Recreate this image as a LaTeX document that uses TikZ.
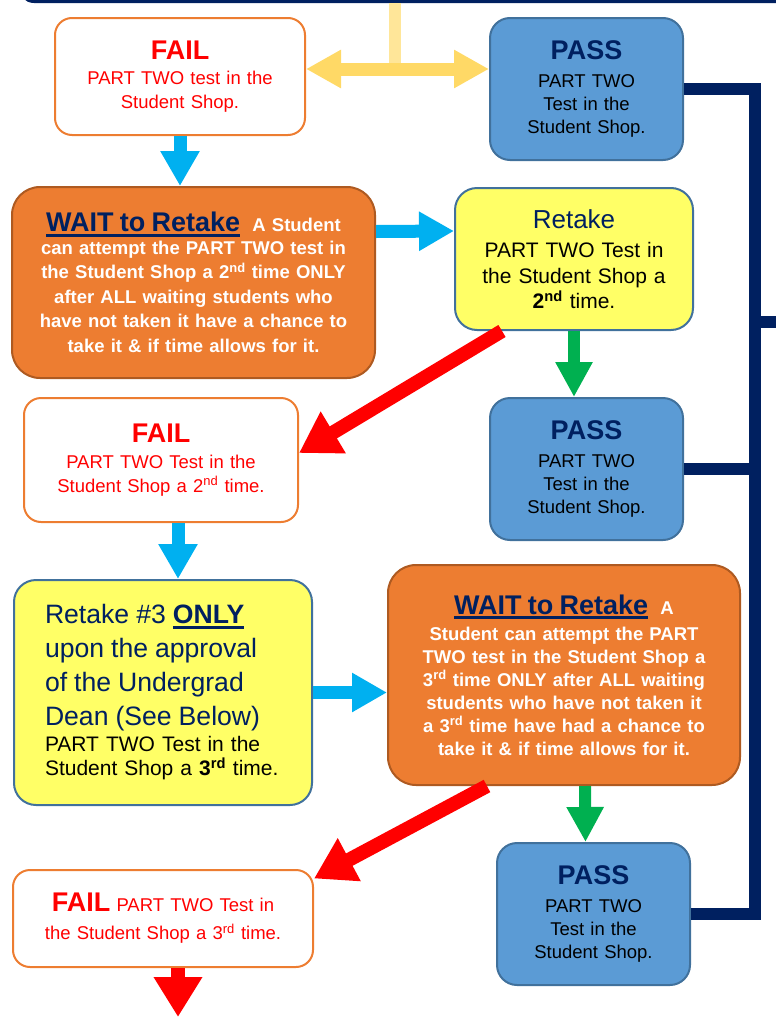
\documentclass[tikz,border=0pt]{standalone}
\usepackage{fontspec}
\setmainfont{Liberation Sans}
\usetikzlibrary{arrows.meta}

\definecolor{navy}{HTML}{002060}
\definecolor{failorange}{HTML}{ED7D31}
\definecolor{waitedge}{HTML}{AE5A21}
\definecolor{passblue}{HTML}{5B9BD5}
\definecolor{passedge}{HTML}{41719C}
\definecolor{retakeyellow}{HTML}{FFFF66}
\definecolor{flowcyan}{HTML}{00B0F0}
\definecolor{flowgreen}{HTML}{00B050}
\definecolor{gold}{HTML}{FFD966}
\definecolor{palegold}{HTML}{FFE699}

\newcommand{\titlefont}{\fontsize{27}{30}\selectfont\bfseries}
\newcommand{\bigfont}{\fontsize{26.6}{34}\selectfont}
\newcommand{\ulined}[1]{\setbox0\hbox{#1}\rlap{\rule[-5pt]{\wd0}{3pt}}\box0}

\begin{document}
\begin{tikzpicture}[x=1pt,y=-1pt,
    failbox/.style={draw=failorange,line width=2pt,fill=white,rounded corners=17pt,text=red,align=center,inner sep=0pt,font=\fontsize{18.5}{23.5}\selectfont},
    passbox/.style={draw=passedge,line width=2pt,fill=passblue,rounded corners=20pt,text=black,align=center,inner sep=0pt,minimum width=193pt,minimum height=142pt,text width=185pt,font=\fontsize{18.5}{23}\selectfont},
    waitbox/.style={draw=waitedge,line width=2pt,fill=failorange,rounded corners=28pt,text=white,align=center,inner sep=0pt,font=\fontsize{18.5}{24.5}\selectfont\bfseries},
    retakebox/.style={draw=passedge,line width=2pt,fill=retakeyellow,rounded corners=22pt,text=black,inner sep=0pt}]

    \useasboundingbox (0,0) rectangle (776,1017);

    % frame of the step above
    \draw[navy,line width=3pt,fill=white,rounded corners=14pt] (20,-40) rectangle (800,1.5);

    \coordinate (frametop) at (395,3);
    \coordinate (hub) at (395,69);
    \coordinate (rail) at (755,322);
    \coordinate (offpage) at (776,322);
    \coordinate (exit) at (178,1017);

    \node[failbox,minimum width=250pt,minimum height=117pt,text width=240pt] (fail1) at (180,76.5)
        {{\titlefont FAIL}\\[2pt] PART TWO test in the\\ Student Shop.};
    \node[passbox] (pass1) at (586.5,89)
        {{\titlefont\color{navy}PASS}\\[5pt] PART TWO\\ Test in the\\ Student Shop.};
    \node[waitbox,minimum width=363pt,minimum height=191pt,text width=353pt] (wait1) at (193.5,282.5)
        {{\color{navy}\ulined{\titlefont WAIT to Retake}}\ \ A Student\\[-2pt]
         can attempt the PART TWO test in\\ the Student Shop a 2\textsuperscript{nd} time ONLY\\
         after ALL waiting students who\\ have not taken it have a chance to\\ take it \& if time allows for it.};
    \node[retakebox,align=center,minimum width=238pt,minimum height=142pt,text width=228pt,font=\fontsize{21}{25.5}\selectfont] (retake2) at (574,259)
        {{\fontsize{26}{28}\selectfont\color{navy}Retake}\\[4pt] PART TWO Test in\\ the Student Shop a\\ \textbf{2\textsuperscript{nd}} time.};
    \node[passbox] (pass2) at (586.5,469)
        {{\titlefont\color{navy}PASS}\\[5pt] PART TWO\\ Test in the\\ Student Shop.};
    \node[failbox,minimum width=274pt,minimum height=124pt,text width=264pt] (fail2) at (161,460)
        {{\titlefont FAIL}\\[2.5pt] PART TWO Test in the\\ Student Shop a 2\textsuperscript{nd} time.};
    \node[retakebox,align=left,minimum width=298pt,minimum height=225pt,text width=236pt,font=\fontsize{21}{34}\selectfont] (retake3) at (163,692.5)
        {{\bigfont\color{navy}Retake \#3 \ulined{\textbf{ONLY}}}\\
         {\bigfont\color{navy}upon the approval}\\
         {\bigfont\color{navy}of the Undergrad}\\
         {\bigfont\color{navy}Dean (See Below)}\\[-8pt]
         PART TWO Test in the\\[-10pt] Student Shop a \textbf{3\textsuperscript{rd}} time.};
    \node[waitbox,minimum width=352pt,minimum height=220pt,text width=342pt,font=\fontsize{18.5}{23}\selectfont\bfseries] (wait2) at (564,675)
        {{\color{navy}\ulined{\titlefont WAIT to Retake}}\ \ A\\[3pt]
         Student can attempt the PART\\ TWO test in the Student Shop a\\ 3\textsuperscript{rd} time ONLY after ALL waiting\\
         students who have not taken it\\ a 3\textsuperscript{rd} time have had a chance to\\ take it \& if time allows for it.};
    \node[passbox] (pass3) at (593.5,914)
        {{\titlefont\color{navy}PASS}\\[5pt] PART TWO\\ Test in the\\ Student Shop.};
    \node[failbox,minimum width=300pt,minimum height=97pt,text width=290pt,font=\fontsize{18.5}{28}\selectfont] (fail3) at (163,918.5)
        {{\titlefont FAIL} PART TWO Test in\\ the Student Shop a 3\textsuperscript{rd} time.};

    \begin{scope}[every edge/.style={draw=palegold,line width=12pt}]
        \path (frametop) edge (hub);
    \end{scope}
    \begin{scope}[every edge/.style={draw=gold,line width=13pt,{Triangle[length=35pt,width=36pt]}-{Triangle[length=35pt,width=36pt]}}]
        \path (fail1.east |- hub) edge (pass1.west |- hub);
    \end{scope}

    \begin{scope}[every edge/.style={draw=flowcyan,line width=13pt,-{Triangle[length=35pt,width=37pt]}}]
        \path (fail1.south) edge (fail1.south |- wait1.north);
        \path ([yshift=51pt]wait1.east) edge ([yshift=28pt]retake2.west);
        \path ([xshift=17pt]fail2.south) edge ([xshift=17pt]fail2.south |- retake3.north);
        \path (retake3.east) edge (retake3.east -| wait2.west);
    \end{scope}

    \begin{scope}[every edge/.style={draw=flowgreen,line width=12pt,-{Triangle[length=35pt,width=35pt]}}]
        \path (retake2.south) edge (retake2.south |- pass2.north);
        \path ([xshift=21pt]wait2.south) edge ([xshift=-8pt]pass3.north);
    \end{scope}

    \begin{scope}[every edge/.style={draw=red,line width=14pt,-{Triangle[length=40pt,width=46pt]}}]
        \path ([xshift=-72pt]retake2.south) edge ([yshift=7pt]fail2.east);
        \path ([xshift=-77pt]wait2.south) edge ([yshift=40pt]fail3.east);
        \path ([xshift=15pt]fail3.south) edge (exit);
    \end{scope}

    % PASS boxes join the rail on the right
    \begin{scope}[every edge/.style={draw=navy,line width=12.5pt}]
        \draw[navy,line width=12.5pt] (pass1.east) -| (rail |- pass3.east) -- (pass3.east);
        \path (pass2.east) edge (rail |- pass2.east);
        \path (rail) edge (offpage);
    \end{scope}

\end{tikzpicture}
\end{document}
